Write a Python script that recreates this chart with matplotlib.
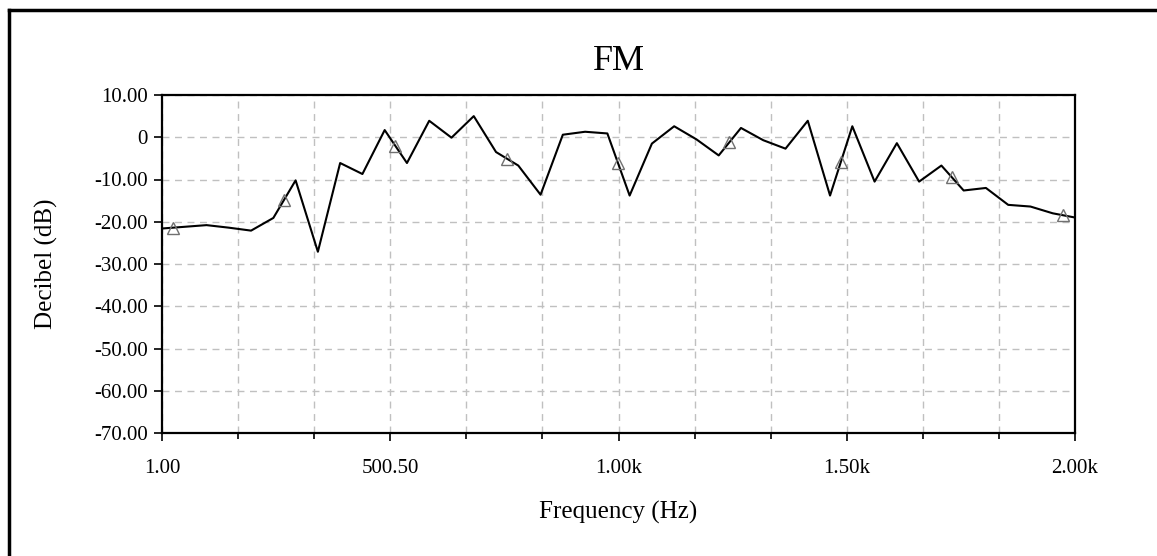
import numpy as np
import matplotlib
matplotlib.use("Agg")
import matplotlib.pyplot as plt
from matplotlib.lines import Line2D

plt.rcParams["font.family"] = "Liberation Serif"

# trace values (dB), evenly spaced in frequency
freq = np.linspace(1, 2000, 42)
db = [-21.6, -21.2, -20.8, -21.4, -22.1, -19.1, -10.2, -27.1, -6.1, -8.7,
      1.7, -6.1, 3.9, -0.1, 5.0, -3.5, -6.7, -13.6, 0.6, 1.3,
      0.9, -13.8, -1.5, 2.6, -0.5, -4.3, 2.2, -0.7, -2.7, 3.9,
      -13.8, 2.6, -10.5, -1.4, -10.5, -6.7, -12.6, -12.0, -16.0, -16.4,
      -18.0, -19.0]

# trace markers every 5 samples, half a step in
marker_freq = [25, 268, 512, 756, 999, 1243, 1487, 1730, 1974]

xticks = np.linspace(1, 2000, 5)
xticklabels = ["1.00", "500.50", "1.00k", "1.50k", "2.00k"]
yticks = np.arange(-70, 11, 10)
yticklabels = ["0" if v == 0 else "%.2f" % v for v in yticks]

fig = plt.figure(figsize=(11.57, 5.56), dpi=100)
ax = fig.add_axes([162/1157, 1 - 433/556, (1075-162)/1157, (433-95)/556])

ax.plot(freq, db, color="black", lw=1.5, zorder=3)
ax.plot(marker_freq, np.interp(marker_freq, freq, db), ls="none", marker="^",
        ms=9, mfc="none", mec="#707070", mew=1.0, zorder=4)

ax.set_xlim(1, 2000)
ax.set_ylim(-70, 10)
ax.set_xticks(xticks)
ax.set_xticklabels(xticklabels)
ax.set_xticks(np.linspace(1, 2000, 13), minor=True)
ax.set_yticks(yticks)
ax.set_yticklabels(yticklabels)

ax.grid(True, which="both", axis="x", color="#c0c0c0", ls=(0, (5, 4)), lw=1)
ax.grid(True, which="major", axis="y", color="#c0c0c0", ls=(0, (5, 4)), lw=1)
ax.set_axisbelow(True)

ax.tick_params(axis="both", which="major", length=6, width=1.2, labelsize=15, direction="out")
ax.tick_params(axis="x", which="minor", length=4, width=1.2)
ax.tick_params(axis="x", pad=13)
ax.tick_params(axis="y", pad=4)
for s in ax.spines.values():
    s.set_linewidth(1.6)

ax.set_title("FM", fontsize=26, pad=18)
ax.set_xlabel("Frequency (Hz)", fontsize=18, labelpad=16)
ax.set_ylabel("Decibel (dB)", fontsize=18, labelpad=26)

# outer frame (only top and left edges fall inside the image)
fig.add_artist(Line2D([9/1157, 1], [1 - 10/556, 1 - 10/556], color="black", lw=2.5, transform=fig.transFigure))
fig.add_artist(Line2D([9/1157, 9/1157], [0, 1 - 10/556], color="black", lw=2.5, transform=fig.transFigure))

plt.savefig("out.png", dpi=100)
